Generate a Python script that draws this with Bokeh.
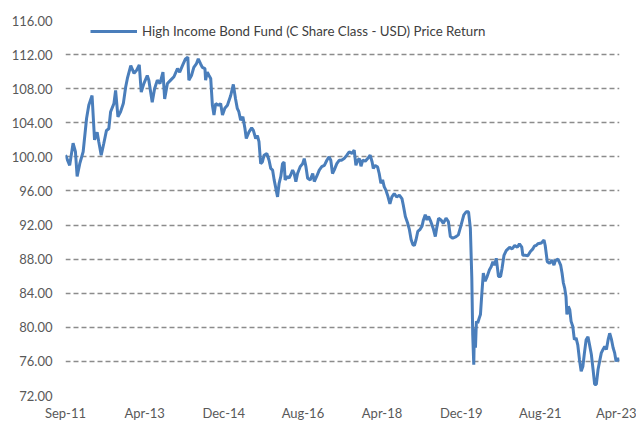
import pandas as pd
from bokeh.plotting import figure
from bokeh.models import (ColumnDataSource, FixedTicker, DatetimeTickFormatter,
                          NumeralTickFormatter, Range1d)
from bokeh.embed import file_html
from bokeh.resources import INLINE

series_name = "High Income Bond Fund (C Share Class - USD) Price Return"

dates = [
    "2011-09-01", "2011-10-03", "2011-10-29", "2011-11-16", "2011-11-29", "2011-12-19",
    "2012-01-14", "2012-02-09", "2012-02-26", "2012-03-22", "2012-04-10", "2012-04-30",
    "2012-05-12", "2012-05-31", "2012-06-20", "2012-07-10", "2012-07-28", "2012-08-11",
    "2012-09-05", "2012-09-18", "2012-10-06", "2012-10-26", "2012-11-16", "2012-12-04",
    "2012-12-17", "2013-01-12", "2013-02-06", "2013-02-25", "2013-03-18", "2013-04-02",
    "2013-04-22", "2013-05-18", "2013-05-30", "2013-06-25", "2013-07-13", "2013-08-03",
    "2013-08-23", "2013-09-15", "2013-09-28", "2013-10-19", "2013-11-13", "2013-12-08",
    "2014-01-04", "2014-01-21", "2014-02-11", "2014-03-06", "2014-03-24", "2014-04-01",
    "2014-04-21", "2014-05-09", "2014-05-28", "2014-06-12", "2014-06-30", "2014-07-13",
    "2014-08-02", "2014-08-07", "2014-08-20", "2014-09-02", "2014-09-15", "2014-09-28",
    "2014-10-10", "2014-10-23", "2014-11-13", "2014-11-30", "2014-12-14", "2015-01-01",
    "2015-01-21", "2015-02-15", "2015-03-07", "2015-03-24", "2015-04-06", "2015-04-18",
    "2015-05-02", "2015-05-19", "2015-06-04", "2015-06-14", "2015-07-04", "2015-07-25",
    "2015-08-07", "2015-08-25", "2015-09-07", "2015-09-19", "2015-10-02", "2015-10-15",
    "2015-10-28", "2015-11-18", "2015-12-05", "2015-12-18", "2016-01-01", "2016-01-13",
    "2016-01-26", "2016-02-08", "2016-02-20", "2016-03-04", "2016-03-17", "2016-03-29",
    "2016-04-06", "2016-04-24", "2016-05-06", "2016-05-19", "2016-06-02", "2016-06-14",
    "2016-06-27", "2016-07-10", "2016-07-30", "2016-08-18", "2016-08-30", "2016-09-12",
    "2016-09-25", "2016-10-15", "2016-11-03", "2016-11-15", "2016-12-03", "2016-12-23",
    "2017-01-11", "2017-01-31", "2017-02-19", "2017-03-08", "2017-03-21", "2017-04-03",
    "2017-04-16", "2017-05-06", "2017-05-24", "2017-06-11", "2017-07-01", "2017-07-22",
    "2017-08-09", "2017-08-30", "2017-09-16", "2017-09-29", "2017-10-12", "2017-10-25",
    "2017-11-07", "2017-11-20", "2017-12-10", "2017-12-28", "2018-01-16", "2018-01-31",
    "2018-02-09", "2018-02-23", "2018-03-14", "2018-03-26", "2018-04-08", "2018-04-21",
    "2018-05-03", "2018-05-16", "2018-05-29", "2018-06-16", "2018-07-01", "2018-07-19",
    "2018-08-06", "2018-08-27", "2018-09-16", "2018-09-26", "2018-10-12", "2018-10-30",
    "2018-11-12", "2018-11-25", "2018-12-08", "2018-12-20", "2019-01-02", "2019-01-15",
    "2019-02-02", "2019-02-17", "2019-02-27", "2019-03-13", "2019-03-26", "2019-04-08",
    "2019-04-25", "2019-05-13", "2019-05-29", "2019-06-08", "2019-06-23", "2019-07-11",
    "2019-07-29", "2019-08-19", "2019-09-06", "2019-09-21", "2019-10-09", "2019-11-04",
    "2019-11-21", "2019-12-12", "2020-01-02", "2020-01-20", "2020-02-07", "2020-02-21",
    "2020-03-03", "2020-03-10", "2020-03-18", "2020-03-23", "2020-03-31", "2020-04-07",
    "2020-04-17", "2020-04-29", "2020-05-08", "2020-05-18", "2020-05-30", "2020-06-13",
    "2020-06-28", "2020-07-16", "2020-07-29", "2020-08-11", "2020-08-24", "2020-09-06",
    "2020-09-23", "2020-10-09", "2020-10-20", "2020-11-04", "2020-11-21", "2020-12-17",
    "2021-01-05", "2021-01-25", "2021-02-14", "2021-03-02", "2021-03-20", "2021-03-28",
    "2021-04-15", "2021-05-05", "2021-05-25", "2021-06-13", "2021-06-25", "2021-07-08",
    "2021-07-21", "2021-08-16", "2021-09-06", "2021-09-15", "2021-10-01", "2021-10-19",
    "2021-11-06", "2021-11-21", "2021-12-01", "2021-12-22", "2022-01-11", "2022-01-22",
    "2022-02-01", "2022-02-11", "2022-02-21", "2022-02-28", "2022-03-11", "2022-03-22",
    "2022-04-01", "2022-04-14", "2022-04-26", "2022-05-09", "2022-05-22", "2022-06-04",
    "2022-06-17", "2022-06-30", "2022-07-12", "2022-07-25", "2022-08-08", "2022-08-20",
    "2022-09-03", "2022-09-16", "2022-09-28", "2022-10-11", "2022-10-24", "2022-11-05",
    "2022-11-18", "2022-12-01", "2022-12-14", "2022-12-27", "2023-01-09", "2023-01-21",
    "2023-02-04", "2023-02-16", "2023-02-28", "2023-03-11", "2023-03-24", "2023-03-31",
]

values = [
    100.2, 99.0, 101.6, 100.6, 97.7, 99.2,
    100.6, 104.5, 106.05, 107.2, 102.0, 102.9,
    101.8, 100.2, 101.6, 103.1, 103.3, 105.3,
    106.25, 107.8, 104.7, 105.3, 106.25, 108.2,
    109.2, 110.7, 109.8, 110.15, 110.8, 107.6,
    108.6, 109.55, 109.0, 106.4, 108.0, 109.0,
    108.6, 109.95, 106.8, 108.6, 109.0, 109.4,
    110.35, 109.95, 110.7, 111.5, 111.7, 109.0,
    109.55, 110.5, 110.9, 111.5, 110.9, 110.5,
    110.35, 109.0, 109.95, 109.55, 109.2, 106.05,
    104.9, 106.25, 106.05, 106.25, 104.9, 105.7,
    106.05, 107.2, 108.5, 106.8, 105.7, 105.3,
    104.3, 104.7, 103.3, 102.15, 102.9, 103.4,
    103.1, 102.15, 102.5, 101.8, 99.2, 99.4,
    100.2, 100.4, 99.6, 98.65, 98.45, 97.3,
    96.3, 95.3, 96.9, 97.7, 99.2, 99.4,
    97.3, 97.7, 97.5, 97.9, 98.45, 98.05,
    97.1, 98.05, 98.85, 99.2, 99.8, 98.85,
    97.5, 97.3, 98.05, 97.1, 97.7, 98.45,
    98.85, 99.0, 99.6, 100.0, 99.6, 98.05,
    98.45, 99.2, 99.6, 99.6, 99.8, 100.2,
    100.6, 100.4, 100.8, 99.0, 99.6, 99.8,
    98.9, 99.6, 99.5, 99.8, 100.2, 99.4,
    98.65, 99.0, 98.8, 98.05, 96.9, 97.3,
    96.5, 96.1, 95.5, 94.5, 95.3, 95.7,
    95.3, 95.5, 95.1, 94.35, 93.0, 92.2,
    91.45, 90.3, 89.7, 89.6, 90.3, 91.25,
    91.5, 91.9, 92.6, 93.2, 92.6, 93.0,
    92.4, 91.6, 90.65, 91.6, 92.8, 92.6,
    92.2, 92.8, 92.4, 90.65, 90.45, 90.65,
    90.85, 92.0, 93.2, 93.55, 93.55, 91.6,
    85.75, 79.1, 75.6, 79.9, 77.6, 80.7,
    80.5, 81.1, 81.5, 83.8, 86.35, 85.4,
    85.95, 86.75, 87.1, 87.7, 87.3, 88.1,
    85.95, 85.95, 86.9, 88.45, 89.0, 89.4,
    89.2, 89.6, 89.4, 89.8, 89.4, 88.45,
    88.45, 88.4, 88.9, 89.2, 89.55, 89.6,
    89.8, 89.9, 90.25, 89.6, 87.7, 87.5,
    87.9, 87.3, 87.8, 88.0, 87.3, 86.35,
    85.2, 84.6, 83.6, 81.5, 82.45, 82.05,
    80.7, 80.1, 78.55, 78.75, 77.95, 76.2,
    74.85, 75.4, 77.0, 78.55, 78.9, 77.95,
    76.8, 75.05, 73.3, 73.3, 75.05, 76.0,
    77.0, 77.4, 77.75, 77.4, 78.55, 79.3,
    78.55, 77.6, 77.0, 76.0, 76.4, 76.0,
]

tick_labels = ["Sep-11", "Apr-13", "Dec-14", "Aug-16", "Apr-18", "Dec-19", "Aug-21", "Apr-23"]
axis_start = "2011-09-01"
tick_step_days = 605
y_ticks = [72, 76, 80, 84, 88, 92, 96, 100, 104, 108, 112, 116]

src = ColumnDataSource(data=dict(x=pd.to_datetime(dates), y=values))

start = pd.Timestamp(axis_start)
tick_dates = [start + pd.Timedelta(days=tick_step_days * i) for i in range(len(tick_labels))]
tick_ms = [t.value / 1e6 for t in tick_dates]

p = figure(width=636, height=423, x_axis_type="datetime",
           output_backend="svg", toolbar_location=None,
           x_range=Range1d(tick_ms[0], tick_ms[-1]),
           y_range=Range1d(y_ticks[0], y_ticks[-1]))
p.min_border_left = 65
p.min_border_right = 17
p.min_border_top = 20
p.min_border_bottom = 27
p.outline_line_color = None
p.background_fill_color = "white"
p.border_fill_color = "white"

p.line("x", "y", source=src, line_color="#4A7EBB", line_width=3,
       legend_label=series_name)

font = "Lato"
label_color = "#595959"

p.xaxis.ticker = FixedTicker(ticks=tick_ms)
fmt = "%b-%y"
p.xaxis.formatter = DatetimeTickFormatter(
    milliseconds=fmt, seconds=fmt, minsec=fmt, minutes=fmt, hourmin=fmt,
    hours=fmt, days=fmt, months=fmt, years=fmt)
p.yaxis.ticker = FixedTicker(ticks=y_ticks)
p.yaxis.formatter = NumeralTickFormatter(format="0.00")

for ax in (p.xaxis[0], p.yaxis[0]):
    ax.axis_line_color = None
    ax.major_tick_line_color = None
    ax.minor_tick_line_color = None
    ax.major_tick_out = 0
    ax.major_tick_in = 0
    ax.minor_tick_out = 0
    ax.minor_tick_in = 0
    ax.major_label_text_font = font
    ax.major_label_text_font_size = "13px"
    ax.major_label_text_color = label_color
p.xaxis.major_label_standoff = 9
p.yaxis.major_label_standoff = 13

p.xgrid.grid_line_color = None
p.ygrid.grid_line_color = "#8C8C8C"
p.ygrid.grid_line_width = 1.3
p.ygrid.grid_line_dash = "5 3"

lg = p.legend[0]
lg.location = (25, 355)
lg.padding = 0
lg.margin = 0
lg.border_line_color = None
lg.background_fill_alpha = 0
lg.glyph_width = 47
lg.glyph_height = 18
lg.label_height = 18
lg.label_standoff = 5
lg.label_text_font = font
lg.label_text_font_size = "13.3px"
lg.label_text_color = "#404040"

open("out.html", "w").write(file_html(p, INLINE))
